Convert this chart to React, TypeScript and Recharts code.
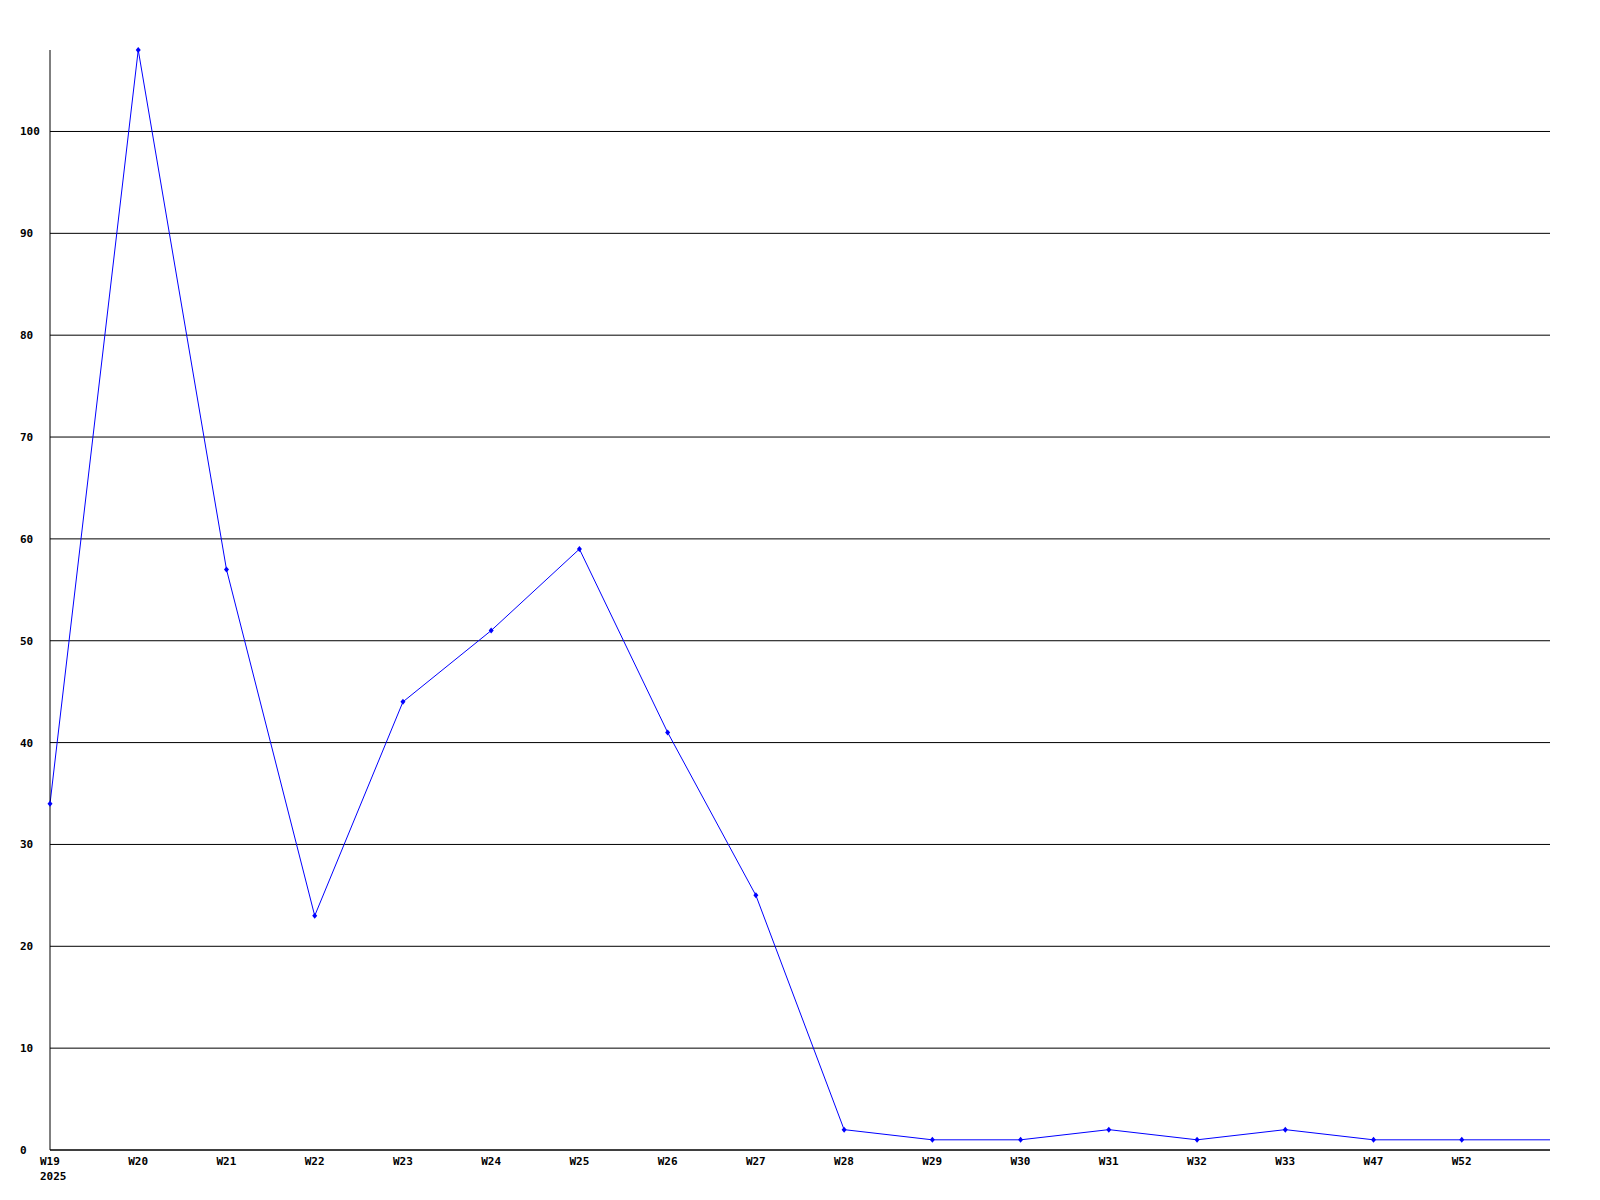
import { CartesianGrid, Line, LineChart, XAxis, YAxis } from 'recharts'

const weeks = ['W19', 'W20', 'W21', 'W22', 'W23', 'W24', 'W25', 'W26', 'W27', 'W28', 'W29', 'W30', 'W31', 'W32', 'W33', 'W47', 'W52', '']
const counts = [34, 108, 57, 23, 44, 51, 59, 41, 25, 2, 1, 1, 2, 1, 2, 1, 1, 1]
const yTicks = [0, 10, 20, 30, 40, 50, 60, 70, 80, 90, 100]
const yearLabel = '2025'

const data = weeks.map((w, i) => ({ week: w, count: counts[i] }))

const FONT = '"DejaVu Sans Mono", monospace'

function YTick({ y, payload }: any) {
  return (
    <text x={20} y={y} dy={4} fontFamily={FONT} fontWeight="bold" fontSize={11} fill="#000" textAnchor="start">
      {payload.value}
    </text>
  )
}

function XTick({ x, y, payload, index }: any) {
  if (!payload.value) return null
  return (
    <g>
      <text x={x - 10} y={y + 7} fontFamily={FONT} fontWeight="bold" fontSize={11} fill="#000" textAnchor="start">
        {payload.value}
      </text>
      {index === 0 ? (
        <text x={x - 10} y={y + 22} fontFamily={FONT} fontWeight="bold" fontSize={11} fill="#000" textAnchor="start">
          {yearLabel}
        </text>
      ) : null}
    </g>
  )
}

// small diamond marker; the trailing unlabeled point has none
function Marker({ cx, cy, index }: any) {
  if (index === weeks.length - 1) return <g key={index} />
  return (
    <polygon
      key={index}
      points={`${cx},${cy - 3} ${cx + 2.5},${cy} ${cx},${cy + 3} ${cx - 2.5},${cy}`}
      fill="#0000ff"
    />
  )
}

export default function App() {
  return (
    <div style={{ position: 'absolute', left: 0, top: 0, width: 1600, height: 1200, background: '#fff' }}>
      <LineChart width={1600} height={1200} data={data} margin={{ top: 50, right: 50, bottom: 0, left: 0 }}>
        <CartesianGrid vertical={false} stroke="#000" strokeWidth={1} horizontalValues={yTicks} />
        <XAxis
          dataKey="week"
          interval={0}
          padding={{ left: 0, right: 0 }}
          height={50}
          stroke="#000"
          tickLine={false}
          tick={<XTick />}
        />
        <YAxis
          domain={[0, 108]}
          ticks={yTicks}
          width={50}
          stroke="#000"
          tickLine={false}
          tick={<YTick />}
        />
        <Line
          type="linear"
          dataKey="count"
          stroke="#0000ff"
          strokeWidth={1}
          dot={<Marker />}
          activeDot={false}
          isAnimationActive={false}
        />
      </LineChart>
    </div>
  )
}
